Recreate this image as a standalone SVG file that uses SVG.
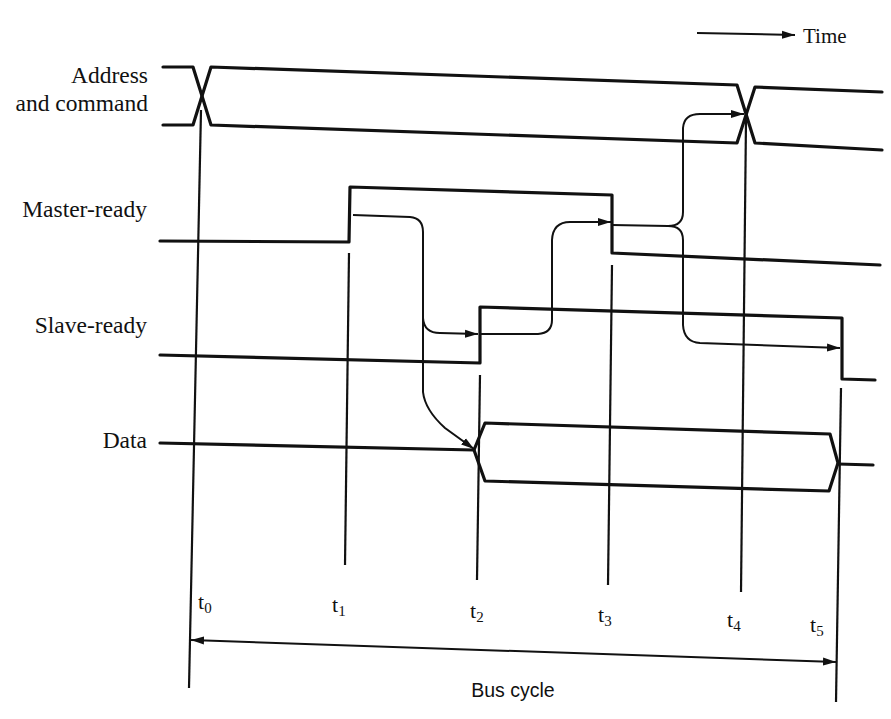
<svg xmlns="http://www.w3.org/2000/svg" width="891" height="719" viewBox="0 0 891 719">
<style>
.sig{fill:none;stroke:#111;stroke-width:3.2;stroke-linejoin:round;stroke-linecap:round}
.tm{fill:none;stroke:#111;stroke-width:2.2}
.ar{fill:none;stroke:#111;stroke-width:2}
.lbl{font-family:"Liberation Serif","Times New Roman",serif;font-size:23.5px;fill:#111}
.tl{font-family:"Liberation Serif","Times New Roman",serif;font-size:22px;fill:#111}
.sub{font-size:15px}
.bc{font-family:"Liberation Sans",Arial,sans-serif;font-size:19.5px;fill:#111}
</style>
<defs>
<marker id="ah" markerUnits="userSpaceOnUse" markerWidth="14" markerHeight="10" refX="13" refY="5" orient="auto-start-reverse">
<path d="M0,1 L13,5 L0,9 Z" fill="#111"/>
</marker>
</defs>
<rect width="891" height="719" fill="#fff"/>

<g id="time-arrow">
<path class="ar" d="M697,33 L795,35" marker-end="url(#ah)"/>
<text class="lbl" x="803" y="43" style="font-size:21px">Time</text>
</g>

<g id="address">
<text class="lbl" x="148" y="83" text-anchor="end">Address</text>
<text class="lbl" x="148" y="111" text-anchor="end">and command</text>
<path class="sig" d="M163,67 L193,67 L211,125 L737,143 L755,87 L882,92"/>
<path class="sig" d="M163,125 L193,125 L211,67 L737,85 L755,143 L882,150"/>
</g>

<g id="master-ready">
<text class="lbl" x="147" y="217" text-anchor="end">Master-ready</text>
<path class="sig" d="M160,241 L349,242 L350,187 L612,195 L612,253 L880,265"/>
</g>

<g id="slave-ready">
<text class="lbl" x="147" y="333" text-anchor="end">Slave-ready</text>
<path class="sig" d="M160,355 L480,363 L480,307 L842,318 L842,379 L875,380"/>
</g>

<g id="data">
<text class="lbl" x="147" y="448" text-anchor="end">Data</text>
<path class="sig" d="M160,443 L474,450"/>
<path class="sig" d="M474,450 L485,423 L830,434 L838,463 L829,491 L485,481 Z"/>
<path class="sig" d="M838,464 L873,465"/>
</g>

<g id="time-marks">
<path class="tm" d="M201,110 L189,688"/>
<path class="tm" d="M349,253 L345,565"/>
<path class="tm" d="M480,375 L477,580"/>
<path class="tm" d="M612,265 L608,585"/>
<path class="tm" d="M746,120 L741,592"/>
<path class="tm" d="M841,388 L836,702"/>
<text class="tl" x="198" y="609">t<tspan class="sub" dy="4">0</tspan></text>
<text class="tl" x="332" y="612">t<tspan class="sub" dy="4">1</tspan></text>
<text class="tl" x="470" y="618">t<tspan class="sub" dy="4">2</tspan></text>
<text class="tl" x="598" y="622">t<tspan class="sub" dy="4">3</tspan></text>
<text class="tl" x="727" y="627">t<tspan class="sub" dy="4">4</tspan></text>
<text class="tl" x="810" y="632">t<tspan class="sub" dy="4">5</tspan></text>
</g>

<g id="connectors">
<path class="ar" d="M353,215 L410,217 Q423,218 423,232 L423,318 Q424,333 440,333 L478,334" marker-end="url(#ah)"/>
<path class="ar" d="M423,318 L423,392 Q425,410 445,428 L474,449" marker-end="url(#ah)"/>
<path class="ar" d="M480,334 L538,334 Q552,333 552,320 L552,240 Q553,222 570,222 L611,222" marker-end="url(#ah)"/>
<path class="ar" d="M612,225 L668,226 Q683,226 683,212 L683,128 Q684,114 700,114 L744,114" marker-end="url(#ah)"/>
<path class="ar" d="M668,226 Q683,226 683,240 L683,325 Q684,342 700,343 L840,348" marker-end="url(#ah)"/>
</g>

<g id="bus-cycle">
<path class="ar" d="M191,640 L836,662" marker-start="url(#ah)" marker-end="url(#ah)"/>
<text class="bc" x="513" y="697" text-anchor="middle">Bus cycle</text>
</g>
</svg>
